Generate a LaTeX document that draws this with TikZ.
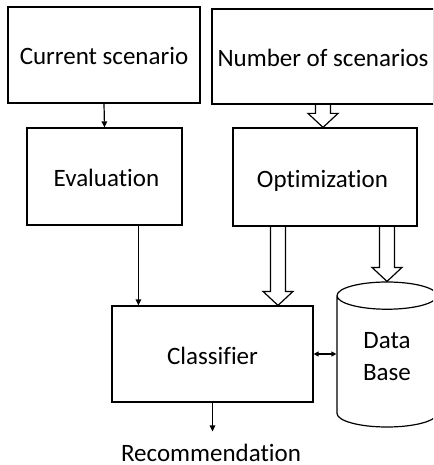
\documentclass[tikz,border=0pt]{standalone}
\usepackage{fontspec}
\setmainfont{Carlito}[Ligatures=NoCommon]
\usetikzlibrary{arrows.meta,positioning,calc,shapes.geometric}
\tikzset{
  blockbox/.style={draw, line width=1.2pt, rectangle, align=center,
                   text height=20pt, text depth=0pt,
                   font=\fontsize{25}{30}\selectfont},
  dbshape/.style={draw, line width=1.2pt, cylinder, shape border rotate=90,
                  aspect=0.5, align=center, text depth=16pt,
                  font=\fontsize{25}{32}\selectfont},
  arr/.style={-{Triangle[length=6pt,width=5.5pt]}, line width=1.2pt},
  darr/.style={{Triangle[length=5pt,width=5pt]}-{Triangle[length=5pt,width=5pt]}, line width=1.2pt},
  % open block arrow drawn as an outline between two points
  hollow/.style={draw, line width=1.2pt, to path={
      let \p1=(\tikztostart), \p2=(\tikztotarget) in
      ({\x1-7.5pt},\y1) -- ({\x1-7.5pt},{\y2+14pt}) -- ({\x1-15pt},{\y2+14pt})
      -- (\x1,\y2) -- ({\x1+15pt},{\y2+14pt}) -- ({\x1+7.5pt},{\y2+14pt})
      -- ({\x1+7.5pt},\y1)}}}
\begin{document}
\begin{tikzpicture}[x=1pt,y=-1pt]
  \useasboundingbox (0,0) rectangle (433,465);
  \clip (0,0) rectangle (433,465);
  \node[blockbox, minimum width=192pt, minimum height=96pt] (cur) at (104,55) {Current scenario};
  \node[blockbox, minimum width=222pt, minimum height=95pt] (num) at (323,56.5) {Number of scenarios};
  \node[blockbox, minimum width=155pt, minimum height=97pt] (eval) at (104.5,176.5) {\hspace{4pt}Evaluation};
  \node[blockbox, minimum width=184pt, minimum height=98pt] (opt) at (325,177) {Optimization\hspace{5pt}};
  \node[blockbox, minimum width=201pt, minimum height=96pt] (cls) at (212.5,354) {Classifier};
  \node[dbshape, minimum width=100pt, minimum height=145pt, anchor=shape center] (db) at (387,354.5) {Data\\Base};
  \node[font=\fontsize{25}{30}\selectfont, anchor=base, inner sep=0pt] (rec) at (211,461) {Recommendation};
  % plain arrows
  \draw[arr] (cur.south) -- (eval.north);
  \draw[arr] ([xshift=27pt]cls.north west |- eval.south) -- ([xshift=27pt]cls.north west);
  \draw[arr, shorten >=12pt] (cls.south) -- (cls.south |- rec.north);
  \draw[darr] (cls.east) -- (db.west |- cls.east);
  % block arrows
  \draw[hollow] (num.south) to (opt.north);
  \draw[hollow] ([xshift=-47pt]opt.south) to ([xshift=-47pt]opt.south |- cls.north);
  \draw[hollow] (opt.south -| db.north) to (db.north);
\end{tikzpicture}
\end{document}
